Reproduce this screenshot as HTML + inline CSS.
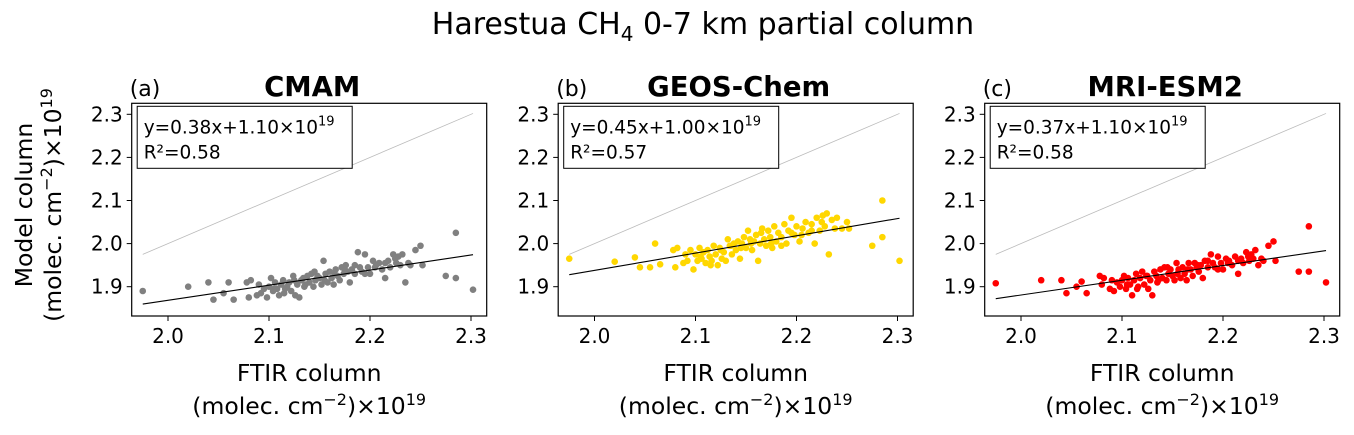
<!DOCTYPE html>
<html><head><meta charset="utf-8"><style>
body{margin:0;background:#fff;width:1354px;height:430px;overflow:hidden}
svg{font-family:"DejaVu Sans","Liberation Sans",sans-serif}
</style></head><body>
<svg id="chart" width="1354" height="430" viewBox="0 0 1354 430" xmlns="http://www.w3.org/2000/svg">
<text x="703" y="34" font-size="30" text-anchor="middle">Harestua CH<tspan font-size="20" dy="7">4</tspan><tspan dy="-7"> 0-7 km partial column</tspan></text>
<g font-size="23.5" text-anchor="middle">
<text transform="translate(32,205) rotate(-90)">Model column</text>
<text transform="translate(61,205) rotate(-90)">(molec. cm<tspan font-size="16" dy="-9">−2</tspan><tspan dy="9">)×10</tspan><tspan font-size="16" dy="-9">19</tspan></text>
</g>
</svg>
<script>
const xs=[1.975,2.020,2.040,2.045,2.055,2.060,2.065,2.078,2.080,2.082,2.088,2.090,2.092,2.095,2.098,2.100,2.102,2.104,2.106,2.108,2.110,2.112,2.114,2.116,2.118,2.120,2.122,2.124,2.126,2.128,2.130,2.132,2.134,2.136,2.138,2.140,2.142,2.144,2.146,2.148,2.150,2.152,2.154,2.156,2.158,2.160,2.162,2.164,2.166,2.168,2.170,2.172,2.174,2.176,2.178,2.180,2.182,2.185,2.188,2.190,2.192,2.195,2.198,2.200,2.203,2.206,2.209,2.212,2.215,2.218,2.220,2.223,2.226,2.228,2.230,2.232,2.235,2.238,2.240,2.245,2.250,2.252,2.275,2.285,2.285,2.302,2.105,2.115,2.125,2.135,2.145,2.155,2.165,2.175,2.185,2.195,2.205,2.215,2.225];
const yCMAM=[1.890,1.900,1.910,1.870,1.885,1.910,1.870,1.910,1.875,1.915,1.880,1.905,1.885,1.895,1.875,1.900,1.920,1.890,1.910,1.895,1.880,1.905,1.915,1.895,1.900,1.910,1.890,1.925,1.880,1.905,1.875,1.915,1.920,1.905,1.925,1.910,1.930,1.900,1.915,1.925,1.920,1.905,1.960,1.930,1.910,1.935,1.920,1.905,1.940,1.925,1.915,1.945,1.930,1.950,1.935,1.910,1.940,1.930,1.980,1.945,1.935,1.975,1.945,1.930,1.960,1.950,1.955,1.940,1.920,1.960,1.945,1.975,1.955,1.970,1.950,1.975,1.910,1.955,1.950,1.985,1.995,1.950,1.925,2.025,1.920,1.893,1.895,1.885,1.915,1.900,1.935,1.915,1.930,1.940,1.950,1.930,1.945,1.955,1.965];
const yGEOS=[1.965,1.958,1.968,1.945,1.945,2.000,1.952,1.985,1.945,1.990,1.955,1.975,1.960,1.985,1.940,1.975,1.960,1.990,1.965,1.980,1.955,1.985,1.970,1.960,1.995,1.975,1.950,1.990,1.965,1.980,1.960,2.010,1.995,1.975,2.000,1.985,2.005,1.965,2.000,2.015,1.990,2.030,2.010,1.985,2.005,2.020,1.960,2.000,2.035,2.010,1.995,2.030,2.015,1.990,2.040,2.005,2.025,2.015,2.045,2.000,2.030,2.060,2.020,2.040,2.005,2.035,2.050,2.025,2.045,2.000,2.060,2.030,2.065,2.040,2.070,1.975,2.055,2.035,2.060,2.035,2.050,2.035,1.995,2.100,2.015,1.960,1.970,1.950,1.985,1.995,1.990,2.000,2.025,2.000,1.995,2.025,2.020,2.030,2.050];
const yMRI=[1.908,1.915,1.915,1.885,1.900,1.912,1.885,1.925,1.905,1.920,1.895,1.915,1.890,1.910,1.900,1.915,1.925,1.895,1.920,1.905,1.880,1.915,1.930,1.900,1.920,1.935,1.905,1.925,1.895,1.915,1.880,1.935,1.925,1.915,1.940,1.920,1.945,1.915,1.930,1.940,1.925,1.915,1.955,1.940,1.920,1.945,1.930,1.915,1.955,1.940,1.925,1.955,1.945,1.935,1.950,1.920,1.960,1.945,1.975,1.955,1.945,1.970,1.955,1.940,1.965,1.960,1.950,1.970,1.930,1.965,1.955,1.980,1.960,1.975,1.965,1.985,1.950,1.965,1.960,1.995,2.005,1.960,1.935,2.040,1.935,1.910,1.905,1.895,1.925,1.910,1.945,1.930,1.940,1.950,1.960,1.940,1.955,1.960,1.970];
const xTicks=[2.0,2.1,2.2,2.3];
const yTicks=[1.9,2.0,2.1,2.2,2.3];
const panelTitles=["CMAM","GEOS-Chem","MRI-ESM2"];
const panelLetters=["(a)","(b)","(c)"];
const eqns=["y=0.38x+1.10×10","y=0.45x+1.00×10","y=0.37x+1.10×10"];
const r2=["R²=0.58","R²=0.57","R²=0.58"];
const series=[yCMAM,yGEOS,yMRI];
const colors=["#808080","#FFD700","#FF0000"];
const NS="http://www.w3.org/2000/svg";
const svg=document.getElementById('chart');
function mk(tag,attrs,parent){const e=document.createElementNS(NS,tag);for(const k in attrs)e.setAttribute(k,attrs[k]);(parent||svg).appendChild(e);return e;}
const L=131.7,T=103.3,W=355,H=212.7,DX=426.5;
for(let p=0;p<3;p++){
  const ox=L+p*DX;
  const sx=v=>ox+36.3+(v-2.0)*1010;
  const sy=v=>286.7-(v-1.9)*431;
  const g=mk('g',{});
  
  
  const t=mk('text',{x:ox+W/2+3,y:96,'font-size':27.5,'font-weight':'bold','text-anchor':'middle'},g);t.textContent=panelTitles[p];
  
  
  const lt=mk('text',{x:ox-2,y:96,'font-size':22},g);lt.textContent=panelLetters[p];
  
  
  const o=mk('line',{x1:sx(1.975),y1:sy(1.975),x2:sx(2.302),y2:sy(2.302),stroke:'#bbb','stroke-width':0.8},g);
  
  
  const ys=series[p];
  for(let i=0;i<xs.length;i++){
    const c=mk('circle',{cx:sx(xs[i]),cy:sy(ys[i]),r:3.3,fill:colors[p]},g);
    
    
  }
  let n=xs.length,mx=0,my=0;for(let i=0;i<n;i++){mx+=xs[i];my+=ys[i];}mx/=n;my/=n;
  let sxy=0,sxx=0;for(let i=0;i<n;i++){sxy+=(xs[i]-mx)*(ys[i]-my);sxx+=(xs[i]-mx)**2;}
  const b=sxy/sxx,a=my-b*mx;
  const f=mk('line',{x1:sx(1.975),y1:sy(a+b*1.975),x2:sx(2.302),y2:sy(a+b*2.302),stroke:'#000','stroke-width':1.1},g);
  
  
  const fr=mk('rect',{x:ox,y:T,width:W,height:H,fill:'none',stroke:'#000','stroke-width':1.2},g);
  
  
  xTicks.forEach(v=>{
    mk('line',{x1:sx(v),x2:sx(v),y1:T+H,y2:T+H+5,stroke:'#000'},g);
    const tx=mk('text',{x:sx(v),y:T+H+27,'font-size':20,'text-anchor':'middle'},g);tx.textContent=v.toFixed(1);
    
    
  });
  yTicks.forEach(v=>{
    mk('line',{x1:ox-5,x2:ox,y1:sy(v),y2:sy(v),stroke:'#000'},g);
    const ty=mk('text',{x:ox-9,y:sy(v)+7,'font-size':20,'text-anchor':'end'},g);ty.textContent=v.toFixed(1);
    
    
  });
  const bx=mk('rect',{x:ox+5.5,y:T+3,width:215,height:62,fill:'#fff',stroke:'#000','stroke-width':1},g);
  
  
  const e1=mk('text',{x:ox+12,y:T+30,'font-size':18.5},g);
  e1.textContent=eqns[p];
  const sup=mk('tspan',{'font-size':13,dy:-8},e1);sup.textContent='19';
  
  
  const e2=mk('text',{x:ox+12,y:T+55,'font-size':18.5},g);e2.textContent=r2[p];
  
  
  const xl=mk('text',{x:ox+W/2,y:381,'font-size':23.5,'text-anchor':'middle'},g);xl.textContent='FTIR column';
  
  
  const xl2=mk('text',{x:ox+W/2,y:414,'font-size':23.5,'text-anchor':'middle'},g);
  xl2.innerHTML='(molec. cm<tspan font-size="16" dy="-9">−2</tspan><tspan dy="9">)×10</tspan><tspan font-size="16" dy="-9">19</tspan>';
  
  
}
</script>
</body></html>
